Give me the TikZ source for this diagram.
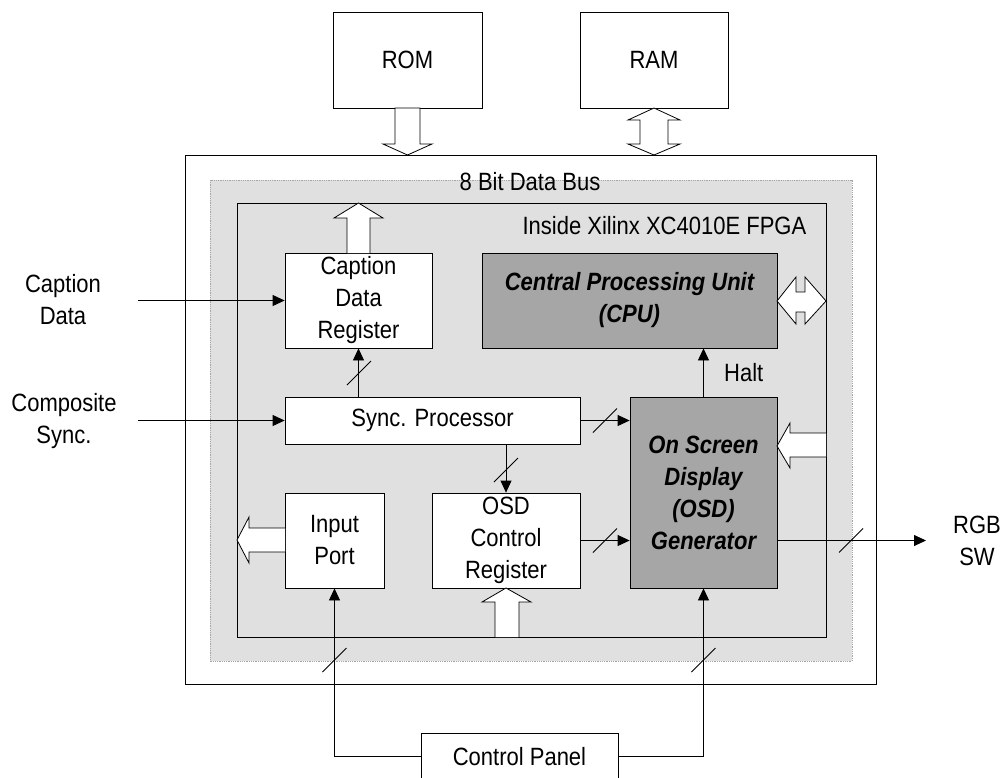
\documentclass[tikz,border=0pt]{standalone}
\usepackage{fontspec}
\setmainfont{LiberationSans}[Extension=.ttf, UprightFont=*-Regular, BoldFont=*-Bold,
	ItalicFont=*-Italic, BoldItalicFont=*-BoldItalic, FakeStretch=0.88]
\usepackage{tikz}
\usetikzlibrary{arrows.meta}
\usetikzlibrary{calc}

\newcommand{\busmark}[1]{\draw ($(#1)+(-12,12)$) -- ($(#1)+(12,-12)$);}

\begin{document}
\fontsize{25}{32}\selectfont
\begin{tikzpicture}[x=1pt,y=-1pt,line width=0.8pt,
	box/.style={draw, fill=white, inner sep=0pt, align=center},
	greybox/.style={box, fill=black!35, font=\bfseries\itshape},
	sig/.style={-{Triangle[length=12pt,width=11pt]}},
	hollow/.style={draw, fill=white, line join=miter}]

		\useasboundingbox (0,0) rectangle (1004,777);

		% memories on top
		\node [box, minimum width=149pt, minimum height=96pt] (ROM) at (407.5,60) {ROM};
		\node [box, minimum width=148pt, minimum height=96pt] (RAM) at (654,60) {RAM};

		% board, data bus and FPGA
		\draw (185,155) rectangle (876,684);
		\fill [black!12] (210,180) rectangle (852,661);
		\draw [black!35, densely dotted] (210,180) rectangle (852,661);
		\draw (237,203) rectangle (826,637);

		\draw (530,182) node {8 Bit Data Bus};
		\draw (815,226) node [anchor=east] {Inside Xilinx XC4010E FPGA};

		% blocks
		\node [box, minimum width=147pt, minimum height=95pt] (CapReg) at (358.5,300.5) {Caption\\Data\\Register};
		\node [greybox, minimum width=295pt, minimum height=95pt] (CPU) at (629.5,300.5) {Central Processing Unit\\(CPU)};
		\node [box, minimum width=295pt, minimum height=47pt] (Sync) at (432.5,420.5) {Sync. Processor};
		\node [greybox, minimum width=147pt, minimum height=191pt] (OSD) at (703.5,492.5) {On Screen\\Display\\(OSD)\\Generator};
		\node [box, minimum width=99pt, minimum height=95pt] (Input) at (334.5,540.5) {Input\\Port};
		\node [box, minimum width=148pt, minimum height=95pt] (OSDCtrl) at (506,540.5) {OSD\\Control\\Register};
		\node [box, minimum width=197pt, minimum height=46pt] (Panel) at (519.5,756.5) {Control Panel};

		% outside signals
		\node [align=center] (CapIn) at (63,300) {Caption\\Data};
		\node [align=center] (SyncIn) at (64,421) {Composite\\Sync.};
		\node [align=center] (RGB) at (977,541) {RGB\\SW};
		\coordinate (CapSrc) at (138,300.5);
		\coordinate (SyncSrc) at (138,420.5);
		\coordinate (RGBOut) at (926,540.5);

		% wide bus arrows
		\filldraw [hollow] (395,108) -- (420,108) -- (420,144) -- (432,144) -- (407.5,155) -- (383,144) -- (395,144) -- cycle;
		\filldraw [hollow] (654,108) -- (680,120) -- (668,120) -- (668,144) -- (680,144) -- (654,155) -- (628,144) -- (640,144) -- (640,120) -- (628,120) -- cycle;
		\filldraw [hollow] (347,253) -- (347,218) -- (334,218) -- (358.5,203) -- (383,218) -- (370,218) -- (370,253);
		\filldraw [hollow] (777,301) -- (796,277) -- (796,292) -- (805,292) -- (805,277) -- (826,301) -- (805,324) -- (805,312) -- (796,312) -- (796,324) -- cycle;
		\filldraw [hollow] (826,433) -- (790,433) -- (790,423) -- (777,446) -- (790,468) -- (790,457) -- (826,457);
		\filldraw [hollow] (285,528) -- (249,528) -- (249,517) -- (237,540) -- (249,563) -- (249,552) -- (285,552);
		\filldraw [hollow] (495,637) -- (495,602) -- (482,602) -- (506,588) -- (531,602) -- (519,602) -- (519,637);

		% signal lines
		\draw [sig] (CapSrc) -- (CapReg.west);
		\draw [sig] (SyncSrc) -- (Sync.west);
		\draw [sig] (Sync.north -| CapReg) -- (CapReg.south);
		\draw [sig] (Sync.east) -- (OSD.west |- Sync.east);
		\draw [sig] (Sync.south -| OSDCtrl) -- (OSDCtrl.north);
		\draw [sig] (OSDCtrl.east) -- (OSD.west |- OSDCtrl.east);
		\draw [sig] (OSD.east |- OSDCtrl.east) -- (RGBOut);
		\draw [sig] (OSD.north) -- (CPU.south -| OSD.north) node [midway, right=12pt] {Halt};
		\draw [sig] (Panel.west) -| (Input.south);
		\draw [sig] (Panel.east) -| (OSD.south);

		\busmark{359,373}
		\busmark{605,420.5}
		\busmark{506,470}
		\busmark{605,540.5}
		\busmark{851,540.5}
		\busmark{334.5,660}
		\busmark{703.5,660}

\end{tikzpicture}
\end{document}
